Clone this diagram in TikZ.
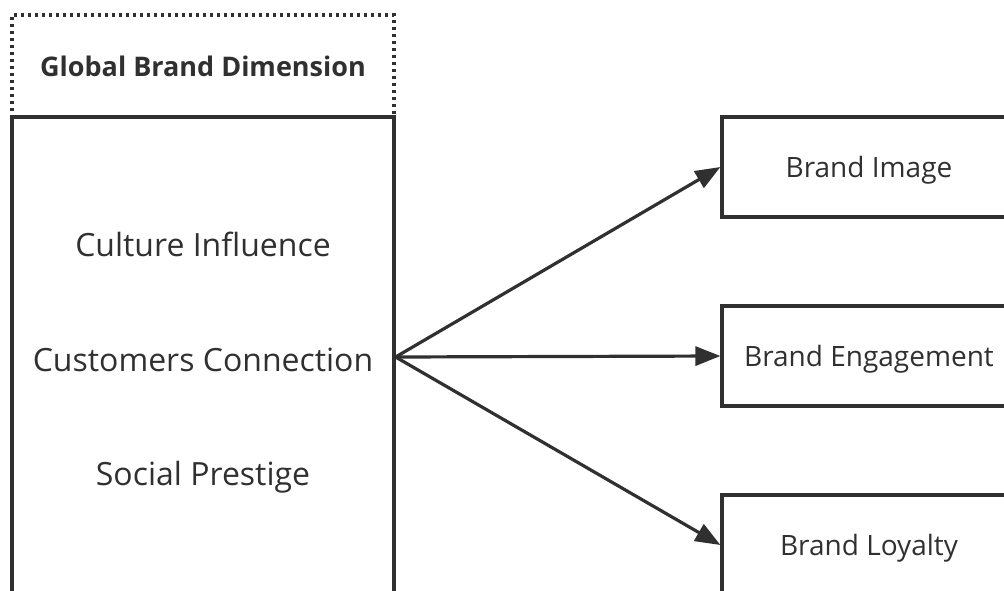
\documentclass[tikz,border=0pt]{standalone}
\usepackage{fontspec}
\setmainfont{Open Sans}
\usetikzlibrary{arrows.meta}
\definecolor{ink}{HTML}{303030}
\begin{document}
\begin{tikzpicture}[x=1pt,y=-1pt,
    box/.style={draw=ink,line width=3.2pt,inner sep=0pt,text=ink},
    factor/.style={text=ink,font=\fontsize{32}{38}\selectfont},
    outcome/.style={box,minimum width=294pt,minimum height=100pt,text depth=0pt,font=\fontsize{28}{34}\selectfont},
    link/.style={draw=ink,line width=3.2pt,-{Triangle[length=25pt,width=19pt]}}]
        \useasboundingbox (0,0) rectangle (1004,590);
        \clip (0,0) rectangle (1004,590);

        % dimension header and its factors
        \node [box,dash pattern=on 3pt off 4pt,minimum width=382pt,minimum height=102pt] (head) at (203,66)
            {\fontsize{27}{32}\selectfont\bfseries Global Brand Dimension};
        \node [box,minimum width=382pt,minimum height=480pt] (dim) at (203,357) {};
        \node [factor] (culture) at (203,244) {Culture Influence};
        \node [factor] (connect) at (203,360) {Customers Connection};
        \node [factor] (prestige) at (203,477) {Social Prestige};

        % outcomes
        \node [outcome] (image) at (869,167) {Brand Image};
        \node [outcome] (engage) at (869,356) {Brand Engagement};
        \node [outcome] (loyal) at (869,545) {Brand Loyalty};

        \draw [link] (dim.east) -- (image.west);
        \draw [link] (dim.east) -- (engage.west);
        \draw [link] (dim.east) -- (loyal.west);
    \end{tikzpicture}
\end{document}
